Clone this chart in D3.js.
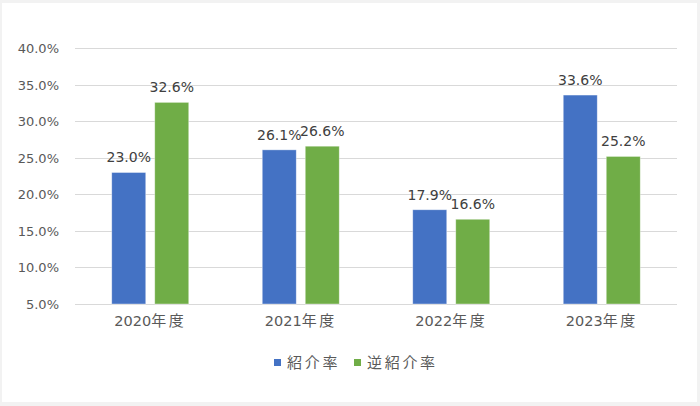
<!DOCTYPE html>
<html><head><meta charset="utf-8">
<script src="https://cdn.jsdelivr.net/npm/d3@7"></script>
<style>
html,body{margin:0;padding:0;background:#f2f2f2;}
svg{display:block;}
text{font-family:"DejaVu Sans","Noto Sans CJK JP",sans-serif;}
.cjk{font-family:"Noto Sans CJK JP",sans-serif;}
</style></head><body>
<svg id="c" width="700" height="406"></svg>
<script>
const categories = ["2020年度","2021年度","2022年度","2023年度"];
const seriesNames = ["紹介率","逆紹介率"];
const shokai = [23.0, 26.1, 17.9, 33.6];
const gyakuShokai = [32.6, 26.6, 16.6, 25.2];
const yTicks = [5,10,15,20,25,30,35,40];
const colors = ["#4472C4","#70AD47"];

(function(){
const svg = d3.select("#c");
svg.append("rect").attr("x",2).attr("y",3).attr("width",695).attr("height",399).attr("fill","#fff");

const mLeft=75, mRight=677, mTop=48.3, mBottom=304;
const x = d3.scaleBand().domain(categories).range([mLeft,mRight]);
const y = d3.scaleLinear().domain([5,40]).range([mBottom,mTop]);
const barW = 34, gap = 9;

svg.append("g").selectAll("line").data(yTicks).join("line")
  .attr("x1",mLeft).attr("x2",mRight)
  .attr("y1",d=>Math.round(y(d))+0.5).attr("y2",d=>Math.round(y(d))+0.5)
  .attr("stroke","#d9d9d9").attr("stroke-width",1);

const yAxis = d3.axisLeft(y).tickValues(yTicks).tickSize(0).tickPadding(0).tickFormat(d=>d.toFixed(1)+"%");
const ga = svg.append("g").attr("transform",`translate(59,0)`).call(yAxis);
ga.select(".domain").remove();
ga.selectAll("text").attr("fill","#595959").style("font-size","13px").style("font-family","DejaVu Sans");

const xAxis = d3.axisBottom(x).tickSize(0).tickPadding(0);
const gx = svg.append("g").attr("transform",`translate(0,${mBottom+15})`).call(xAxis);
gx.select(".domain").remove();
gx.selectAll("text").attr("fill","#595959").each(function(d){
  const t = d3.select(this);
  t.text(null);
  const m = d.match(/^(\d+)(.*)$/);
  t.append("tspan").style("font-family","DejaVu Sans").style("font-size","14.5px").text(m[1]);
  t.append("tspan").attr("class","cjk").style("font-size","15px").style("letter-spacing","2.5px").text(m[2]);
});

const series = [shokai, gyakuShokai];
series.forEach((vals,si)=>{
  const data = categories.map((c,i)=>({c,v:vals[i]}));
  const off = si===0 ? -gap/2-barW : gap/2;
  const g = svg.append("g");
  g.selectAll("rect").data(data).join("rect")
    .attr("x",d=>x(d.c)+x.bandwidth()/2+off)
    .attr("y",d=>y(d.v))
    .attr("width",barW)
    .attr("height",d=>y(5)-y(d.v))
    .attr("fill",colors[si])
    .attr("stroke","#ffffff").attr("stroke-opacity",0.5).attr("stroke-width",0.75);
  g.selectAll("text").data(data).join("text")
    .attr("x",d=>x(d.c)+x.bandwidth()/2+off+barW/2)
    .attr("y",d=>y(d.v)-10)
    .attr("text-anchor","middle")
    .attr("fill","#404040").style("font-size","14px").style("font-family","DejaVu Sans")
    .text(d=>d.v.toFixed(1)+"%");
});

const legend = svg.append("g");
const lx = [274, 354];
seriesNames.forEach((n,i)=>{
  legend.append("rect").attr("x",lx[i]).attr("y",359).attr("width",7).attr("height",7).attr("fill",colors[i]);
  legend.append("text").attr("class","cjk").attr("x",lx[i]+13).attr("y",362.5).attr("dy","0.35em")
    .attr("fill","#595959").style("font-size","15px").style("letter-spacing","2.7px").text(n);
});
})();
</script>
</body></html>
